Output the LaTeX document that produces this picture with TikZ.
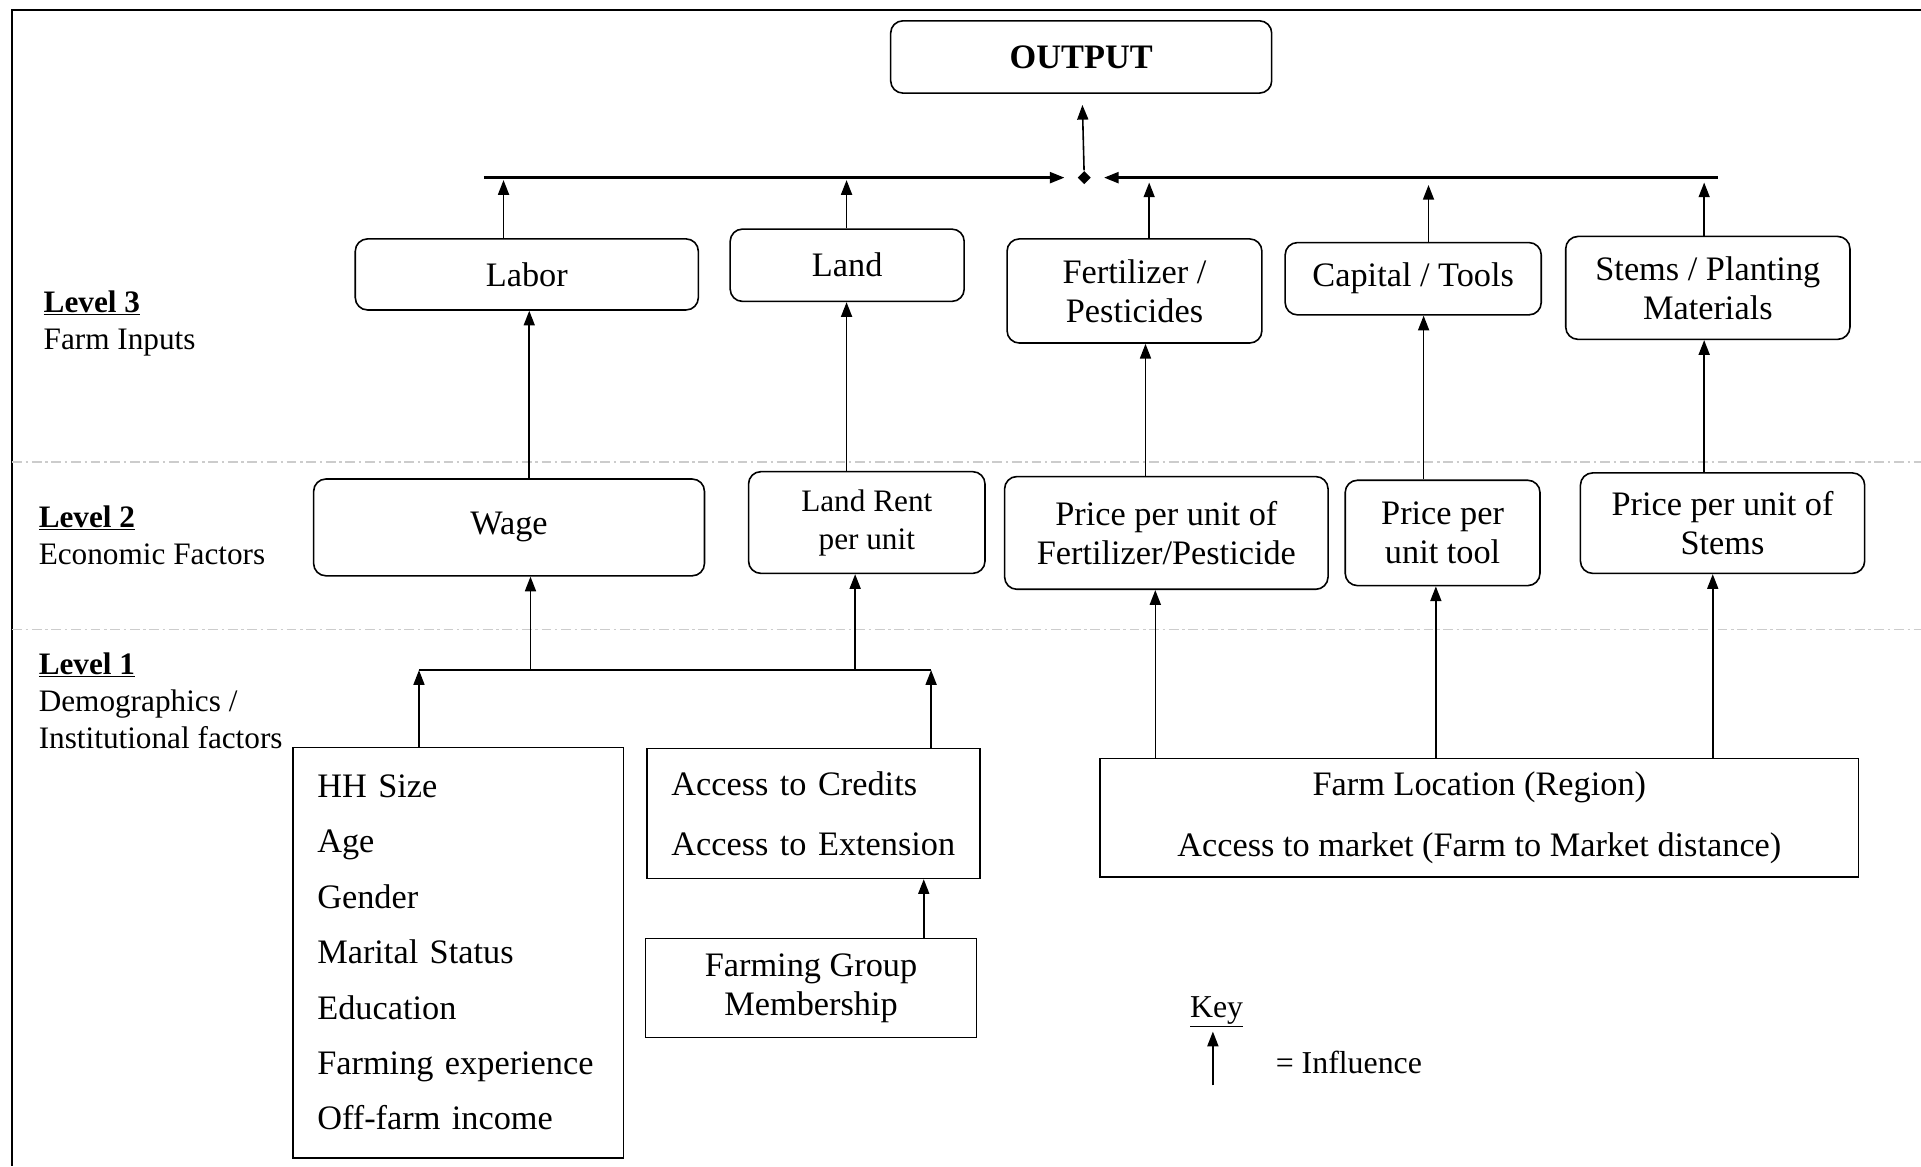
\documentclass[tikz,border=0pt]{standalone}
\usepackage{fontspec}
\setmainfont{Liberation Serif}
\usetikzlibrary{arrows.meta,shapes.geometric}

\tikzset{every picture/.style={line width=1.3pt},
  infl/.style={-{Triangle[length=12pt,width=9pt]}},
  rbox/.style={draw, rounded corners=10pt, align=center, inner sep=4pt, font={\fontsize{28}{32}\selectfont}},
  sbox/.style={draw, align=center, inner sep=4pt, font={\fontsize{28}{32}\selectfont}},
  lvl/.style={anchor=west, align=left, inner sep=0pt, font={\fontsize{25.5}{30}\selectfont}},
  sepline/.style={draw=gray!40, line width=1.2pt, dash pattern=on 8pt off 3pt on 2pt off 3pt}
}

\begin{document}
\begin{tikzpicture}[x=1pt,y=1pt,yscale=-1,xscale=1]
                  \useasboundingbox (0,0) rectangle (1568,952);

                  %Frame
                  \draw [line width=1.6pt] (1568,8) -- (10,8) -- (10,952) ;
                  %Dashed separators
                  \draw [sepline] (10,377) -- (1568,377) ;
                  \draw [sepline] (10,514) -- (1568,514) ;

                  % Level labels
                  \node (lvl3) at (35,264) [lvl] {\underline{\textbf{Level 3}}\\Farm Inputs};
                  \node (lvl2) at (31,437) [lvl] {\underline{\textbf{Level 2}}\\Economic Factors};
                  \node (lvl1) at (31,572) [lvl] {\underline{\textbf{Level 1}}\\Demographics /\\Institutional factors};

                  %Output
                  \node (output) at (882.5,46.5) [rbox, minimum width=311pt, minimum height=59pt] {\textbf{OUTPUT}};
                  \node (hub) at (885,145) [diamond, fill, inner sep=0pt, minimum size=11pt] {};

                  %Level 3 boxes
                  \node (labor) at (430,224) [rbox, minimum width=280pt, minimum height=58pt] {Labor};
                  \node (land) at (691.5,216.5) [rbox, minimum width=191pt, minimum height=59pt] {Land};
                  \node (fert) at (926,237.5) [rbox, minimum width=208pt, minimum height=85pt] {Fertilizer /\\Pesticides};
                  \node (capital) at (1153.5,227.5) [rbox, minimum width=209pt, minimum height=59pt] {Capital / Tools};
                  \node (stems) at (1394,235) [rbox, minimum width=232pt, minimum height=84pt] {Stems / Planting\\Materials};

                  %Level 2 boxes
                  \node (wage) at (415.5,430.5) [rbox, minimum width=319pt, minimum height=79pt] {Wage};
                  \node (landrent) at (707.5,426.5) [rbox, minimum width=193pt, minimum height=83pt, font={\fontsize{25.5}{31}\selectfont}] {Land Rent\\per unit};
                  \node (pfert) at (952,435) [rbox, minimum width=264pt, minimum height=92pt] {Price per unit of\\Fertilizer/Pesticide};
                  \node (ptool) at (1177.5,435) [rbox, minimum width=159pt, minimum height=86pt] {Price per\\unit tool};
                  \node (pstems) at (1406,427) [rbox, minimum width=232pt, minimum height=82pt] {Price per unit of\\Stems};

                  %Level 1 boxes
                  \node (hh) at (374,777.5) [sbox, minimum height=335pt, text width=230pt, inner xsep=20pt, align=left, font={\fontsize{28}{45.2}\selectfont}]
                    {HH Size\\Age\\Gender\\Marital Status\\Education\\Farming experience\\Off-farm income};
                  \node (access) at (664,664) [sbox, minimum height=106pt, text width=232pt, inner xsep=20pt, align=left, font={\fontsize{28}{49}\selectfont}]
                    {Access to Credits\\Access to Extension};
                  \node (fgm) at (662,806.5) [sbox, minimum width=270pt, minimum height=81pt] {Farming Group\\Membership};
                  \node (farmloc) at (1207.5,667.5) [sbox, minimum width=619pt, minimum height=97pt, font={\fontsize{28}{50}\selectfont}]
                    {Farm Location (Region)\\Access to market (Farm to Market distance)};

                  %Key
                  \node (key) at (993,826) [font={\fontsize{26}{30}\selectfont}] {\underline{Key}};
                  \node (keytxt) at (1101,867) [font={\fontsize{26}{30}\selectfont}] {= Influence};
                  \coordinate (keyfoot) at (990,886);
                  \coordinate (keytip) at (990,842);
                  \draw [infl] (keyfoot) -- (keytip) ;

                  %Top bus
                  \coordinate (busL) at (395,145);
                  \coordinate (busR) at (1402,145);
                  \draw [infl, line width=2pt, shorten >=10pt] (busL) -- (hub) ;
                  \draw [infl, line width=2pt, shorten >=10pt] (busR) -- (hub) ;
                  \draw [infl, shorten >=9pt] (hub) -- (output) ;

                  %Level 3 to bus
                  \coordinate (t1) at (411,147);
                  \coordinate (t2) at (691,147);
                  \coordinate (t3) at (938,149);
                  \coordinate (t4) at (1166,151);
                  \coordinate (t5) at (1391,149);
                  \draw [infl] (labor.north -| t1) -- (t1) ;
                  \draw [infl] (land.north -| t2) -- (t2) ;
                  \draw [infl] (fert.north -| t3) -- (t3) ;
                  \draw [infl] (capital.north -| t4) -- (t4) ;
                  \draw [infl] (stems.north -| t5) -- (t5) ;

                  %Level 2 to Level 3
                  \coordinate (c1) at (432,0);
                  \coordinate (c2) at (691,0);
                  \coordinate (c3) at (935,0);
                  \coordinate (c4) at (1162,0);
                  \coordinate (c5) at (1391,0);
                  \draw [infl] (wage.north -| c1) -- (labor.south -| c1) ;
                  \draw [infl] (landrent.north -| c2) -- (land.south -| c2) ;
                  \draw [infl] (pfert.north -| c3) -- (fert.south -| c3) ;
                  \draw [infl] (ptool.north -| c4) -- (capital.south -| c4) ;
                  \draw [infl] (pstems.north -| c5) -- (stems.south -| c5) ;

                  %Level 1 bus
                  \coordinate (b1L) at (342,547);
                  \coordinate (b1R) at (760,547);
                  \coordinate (k1) at (433,547);
                  \coordinate (k2) at (698,547);
                  \draw (b1L) -- (b1R) ;
                  \draw [infl] (k1) -- (wage.south -| k1) ;
                  \draw [infl] (k2) -- (landrent.south -| k2) ;
                  \draw [infl] (hh.north -| b1L) -- (b1L) ;
                  \draw [infl] (access.north -| b1R) -- (b1R) ;
                  \coordinate (k3) at (754,0);
                  \draw [infl] (fgm.north -| k3) -- (access.south -| k3) ;

                  %Farm location to prices
                  \coordinate (d3) at (943,0);
                  \coordinate (d4) at (1172,0);
                  \coordinate (d5) at (1398,0);
                  \draw [infl] (farmloc.north -| d3) -- (pfert.south -| d3) ;
                  \draw [infl] (farmloc.north -| d4) -- (ptool.south -| d4) ;
                  \draw [infl] (farmloc.north -| d5) -- (pstems.south -| d5) ;

\end{tikzpicture}
\end{document}
